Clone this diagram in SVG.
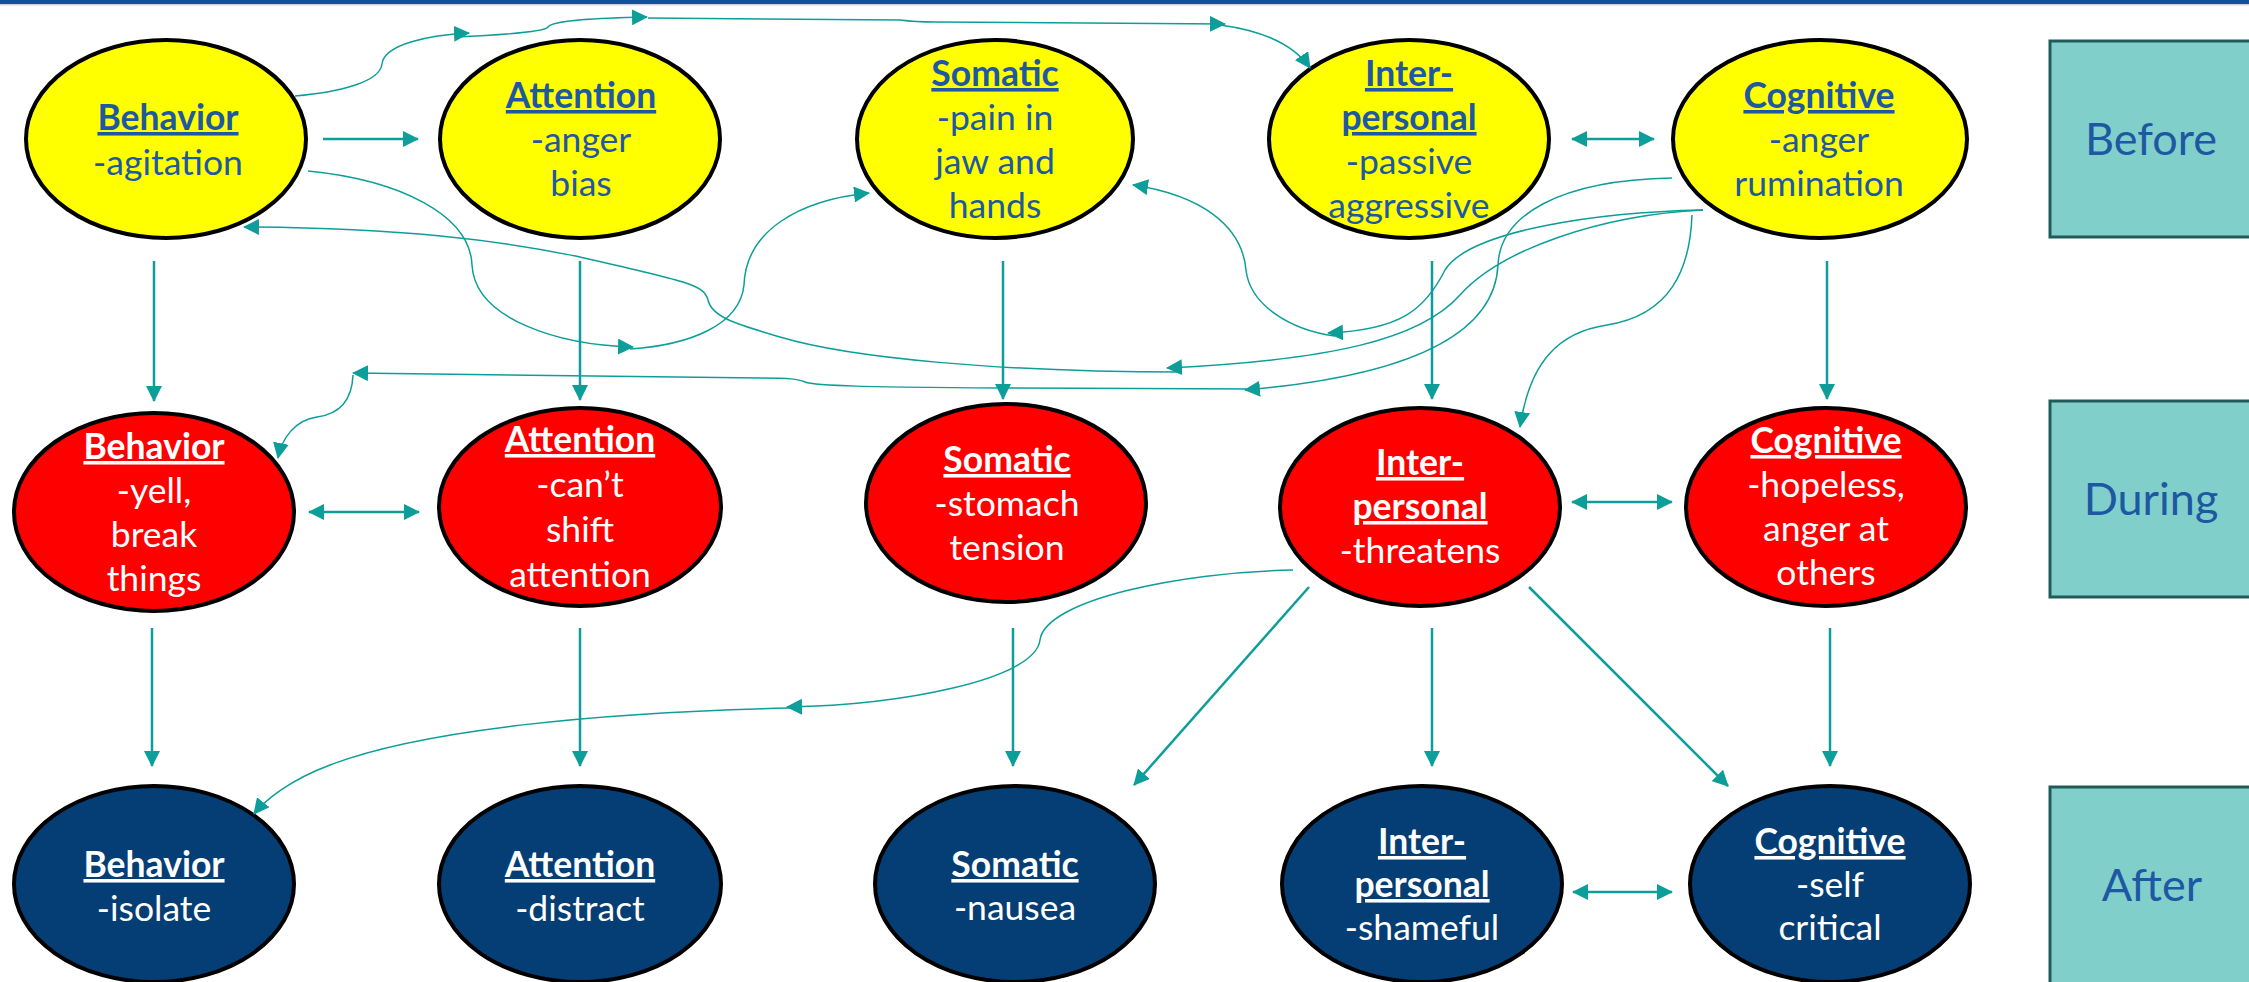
<svg xmlns="http://www.w3.org/2000/svg" width="2249" height="982" viewBox="0 0 2249 982">
  <style>
    .ny { fill: #ffff00; stroke: #000; stroke-width: 4; }
    .nr { fill: #ff0000; stroke: #000; stroke-width: 4; }
    .nb { fill: #043e74; stroke: #000; stroke-width: 4; }
    .txt { font-family: Lato, "Open Sans", "Liberation Sans", sans-serif; font-size: 35.5px; text-anchor: middle; }
    .dark { fill: #1e58a3; }
    .light { fill: #ffffff; }
    .hd { font-weight: bold; text-decoration: underline; }
    .con { fill: none; stroke: #0e9e9a; }
    .st { stroke-width: 2.5; }
    .cv { stroke-width: 1.5; }
    .lbl { fill: #80cfcb; stroke: #1f5c59; stroke-width: 3; }
    .lt { font-family: Lato, "Open Sans", "Liberation Sans", sans-serif; font-size: 45px; fill: #1e58a3; text-anchor: middle; }
  </style>
  <defs>
    <marker id="ah" viewBox="0 0 16 16" markerWidth="16" markerHeight="16" refX="15" refY="8" orient="auto-start-reverse" markerUnits="userSpaceOnUse">
      <path d="M0,0 L16,8 L0,16 z" fill="#0e9e9a"/>
    </marker>
  </defs>

  <rect width="2249" height="982" fill="#ffffff"/>
  <rect x="0" y="0" width="2249" height="4" fill="#11519b"/>
  <rect x="0" y="4" width="2249" height="1.5" fill="#c8d3e3"/>

  <!-- Before row -->
  <g id="before-behavior">
    <ellipse class="ny" cx="166" cy="139" rx="140" ry="99"/>
    <text class="txt dark"><tspan class="hd" x="168" y="130">Behavior</tspan><tspan x="168" y="175">-agitation</tspan></text>
  </g>
  <g id="before-attention">
    <ellipse class="ny" cx="580" cy="139" rx="140" ry="99"/>
    <text class="txt dark"><tspan class="hd" x="581" y="108">Attention</tspan><tspan x="581" y="152">-anger</tspan><tspan x="581" y="196">bias</tspan></text>
  </g>
  <g id="before-somatic">
    <ellipse class="ny" cx="995" cy="139" rx="138" ry="99"/>
    <text class="txt dark"><tspan class="hd" x="995" y="86">Somatic</tspan><tspan x="995" y="130">-pain in</tspan><tspan x="995" y="174">jaw and</tspan><tspan x="995" y="218">hands</tspan></text>
  </g>
  <g id="before-interpersonal">
    <ellipse class="ny" cx="1409" cy="139" rx="140" ry="99"/>
    <text class="txt dark"><tspan class="hd" x="1409" y="86">Inter-</tspan><tspan class="hd" x="1409" y="130">personal</tspan><tspan x="1409" y="174">-passive</tspan><tspan x="1409" y="218">aggressive</tspan></text>
  </g>
  <g id="before-cognitive">
    <ellipse class="ny" cx="1820" cy="139" rx="147" ry="99"/>
    <text class="txt dark"><tspan class="hd" x="1819" y="108">Cognitive</tspan><tspan x="1819" y="152">-anger</tspan><tspan x="1819" y="196">rumination</tspan></text>
  </g>

  <!-- During row -->
  <g id="during-behavior">
    <ellipse class="nr" cx="154" cy="512" rx="140" ry="99"/>
    <text class="txt light"><tspan class="hd" x="154" y="459">Behavior</tspan><tspan x="154" y="503">-yell,</tspan><tspan x="154" y="547">break</tspan><tspan x="154" y="591">things</tspan></text>
  </g>
  <g id="during-attention">
    <ellipse class="nr" cx="580" cy="507" rx="141" ry="99"/>
    <text class="txt light"><tspan class="hd" x="580" y="452">Attention</tspan><tspan x="580" y="497">-can’t</tspan><tspan x="580" y="542">shift</tspan><tspan x="580" y="587">attention</tspan></text>
  </g>
  <g id="during-somatic">
    <ellipse class="nr" cx="1006" cy="503" rx="140" ry="99"/>
    <text class="txt light"><tspan class="hd" x="1007" y="472">Somatic</tspan><tspan x="1007" y="516">-stomach</tspan><tspan x="1007" y="560">tension</tspan></text>
  </g>
  <g id="during-interpersonal">
    <ellipse class="nr" cx="1420" cy="507" rx="140" ry="99"/>
    <text class="txt light"><tspan class="hd" x="1420" y="475">Inter-</tspan><tspan class="hd" x="1420" y="519">personal</tspan><tspan x="1420" y="563">-threatens</tspan></text>
  </g>
  <g id="during-cognitive">
    <ellipse class="nr" cx="1826" cy="507" rx="140" ry="99"/>
    <text class="txt light"><tspan class="hd" x="1826" y="453">Cognitive</tspan><tspan x="1826" y="497">-hopeless,</tspan><tspan x="1826" y="541">anger at</tspan><tspan x="1826" y="585">others</tspan></text>
  </g>

  <!-- After row -->
  <g id="after-behavior">
    <ellipse class="nb" cx="154" cy="884" rx="140" ry="98"/>
    <text class="txt light"><tspan class="hd" x="154" y="877">Behavior</tspan><tspan x="154" y="921">-isolate</tspan></text>
  </g>
  <g id="after-attention">
    <ellipse class="nb" cx="580" cy="884" rx="141" ry="98"/>
    <text class="txt light"><tspan class="hd" x="580" y="877">Attention</tspan><tspan x="580" y="921">-distract</tspan></text>
  </g>
  <g id="after-somatic">
    <ellipse class="nb" cx="1015" cy="884" rx="140" ry="98"/>
    <text class="txt light"><tspan class="hd" x="1015" y="877">Somatic</tspan><tspan x="1015" y="920">-nausea</tspan></text>
  </g>
  <g id="after-interpersonal">
    <ellipse class="nb" cx="1422" cy="884" rx="140" ry="98"/>
    <text class="txt light"><tspan class="hd" x="1422" y="854">Inter-</tspan><tspan class="hd" x="1422" y="897">personal</tspan><tspan x="1422" y="940">-shameful</tspan></text>
  </g>
  <g id="after-cognitive">
    <ellipse class="nb" cx="1830" cy="884" rx="140" ry="98"/>
    <text class="txt light"><tspan class="hd" x="1830" y="854">Cognitive</tspan><tspan x="1830" y="897">-self</tspan><tspan x="1830" y="940">critical</tspan></text>
  </g>

  <!-- Phase labels -->
  <g id="label-before">
    <rect class="lbl" x="2050" y="41" width="260" height="196"/>
    <text class="lt" x="2151" y="155">Before</text>
  </g>
  <g id="label-during">
    <rect class="lbl" x="2050" y="401" width="260" height="196"/>
    <text class="lt" x="2151" y="515">During</text>
  </g>
  <g id="label-after">
    <rect class="lbl" x="2050" y="787" width="260" height="260"/>
    <text class="lt" x="2152" y="901">After</text>
  </g>

  <!-- Connectors -->
  <g id="connectors" class="con">
    <!-- straight: before to during -->
    <path class="st" d="M154,261 V401" marker-end="url(#ah)"/>
    <path class="st" d="M580,261 V400" marker-end="url(#ah)"/>
    <path class="st" d="M1003,261 V399" marker-end="url(#ah)"/>
    <path class="st" d="M1432,261 V399" marker-end="url(#ah)"/>
    <path class="st" d="M1827,261 V399" marker-end="url(#ah)"/>
    <!-- straight: during to after -->
    <path class="st" d="M152,628 V766" marker-end="url(#ah)"/>
    <path class="st" d="M580,628 V766" marker-end="url(#ah)"/>
    <path class="st" d="M1013,628 V766" marker-end="url(#ah)"/>
    <path class="st" d="M1432,628 V766" marker-end="url(#ah)"/>
    <path class="st" d="M1830,628 V766" marker-end="url(#ah)"/>
    <!-- horizontal links -->
    <path class="st" d="M323,139 H418" marker-end="url(#ah)"/>
    <path class="st" d="M1572,139 H1654" marker-start="url(#ah)" marker-end="url(#ah)"/>
    <path class="st" d="M309,512 H419" marker-start="url(#ah)" marker-end="url(#ah)"/>
    <path class="st" d="M1572,502 H1672" marker-start="url(#ah)" marker-end="url(#ah)"/>
    <path class="st" d="M1573,892 H1672" marker-start="url(#ah)" marker-end="url(#ah)"/>
    <!-- diagonals from during interpersonal -->
    <path class="st" d="M1309,587 L1134,785" marker-end="url(#ah)"/>
    <path class="st" d="M1529,587 L1728,786" marker-end="url(#ah)"/>

    <!-- top chain: behavior to interpersonal -->
    <path class="cv" d="M295,96 C340,92 380,82 382,64 C384,44 430,35 469,33" marker-end="url(#ah)"/>
    <path class="cv" d="M455,37 C500,35 545,32 548,27 C552,20 600,18 647,17" marker-end="url(#ah)"/>
    <path class="cv" d="M648,18 L900,20 Q915,22 935,22 L1225,24" marker-end="url(#ah)"/>
    <path class="cv" d="M1220,25 C1265,31 1295,46 1310,68" marker-end="url(#ah)"/>

    <!-- behavior to somatic via mid point -->
    <path class="cv" d="M308,171 C400,180 470,215 472,265 C475,320 560,345 633,347" marker-end="url(#ah)"/>
    <path class="cv" d="M630,349 C690,345 740,325 744,285 C746,230 800,200 869,193" marker-end="url(#ah)"/>

    <!-- cognitive to somatic -->
    <path class="cv" d="M1703,210 C1600,212 1470,230 1445,270 C1425,310 1400,330 1328,333" marker-end="url(#ah)"/>
    <path class="cv" d="M1335,336 C1290,330 1250,305 1246,270 C1242,225 1200,195 1133,185" marker-end="url(#ah)"/>

    <!-- cognitive to behavior (before) -->
    <path class="cv" d="M1703,210 C1600,215 1500,250 1460,295 C1420,340 1330,360 1167,368" marker-end="url(#ah)"/>
    <path class="cv" d="M1182,372 C1000,372 850,358 780,337 C740,325 712,318 708,300 C704,285 690,282 580,257 C500,240 400,228 244,227" marker-end="url(#ah)"/>

    <!-- cognitive to behavior (during) -->
    <path class="cv" d="M1672,178 C1560,180 1500,215 1498,265 C1495,330 1420,375 1245,390" marker-end="url(#ah)"/>
    <path class="cv" d="M1258,389 L1000,388 C870,387 815,386 805,382 C798,379 790,378 760,378 L353,373" marker-end="url(#ah)"/>
    <path class="cv" d="M353,375 C352,400 340,414 317,417 C295,420 282,438 278,458" marker-end="url(#ah)"/>

    <!-- cognitive to interpersonal (during) -->
    <path class="cv" d="M1692,215 C1690,270 1670,315 1607,325 C1560,332 1530,360 1520,427" marker-end="url(#ah)"/>

    <!-- interpersonal (during) to behavior (after) -->
    <path class="cv" d="M1293,570 C1180,572 1045,600 1040,640 C1035,680 900,705 787,707" marker-end="url(#ah)"/>
    <path class="cv" d="M790,708 C600,712 420,730 330,765 C290,780 265,800 254,814" marker-end="url(#ah)"/>
  </g>
</svg>
